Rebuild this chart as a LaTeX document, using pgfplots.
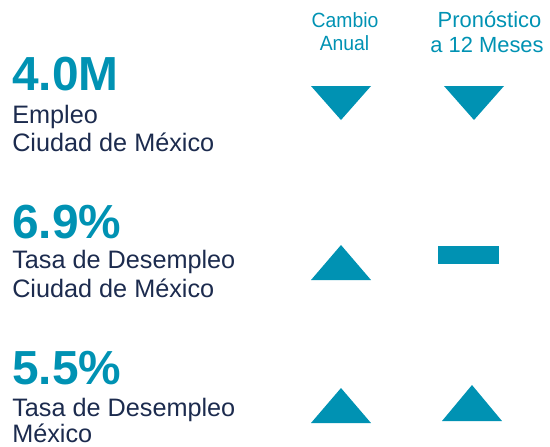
\documentclass[border=0pt]{standalone}
\usepackage{pgfplots}
\pgfplotsset{compat=1.18}
\usepackage{fontspec}
\setmainfont{Liberation Sans}

\definecolor{teal0}{HTML}{0092B3}
\definecolor{navy0}{HTML}{1C2B4E}

\tikzset{
    lbl/.style={anchor=base west, inner sep=0pt, text=navy0, font=\fontsize{19}{22}\selectfont},
    big/.style={anchor=base west, inner sep=0pt, text=teal0, font=\fontsize{36}{40}\selectfont\bfseries},
}

\begin{document}
\begin{tikzpicture}
\useasboundingbox (0,0) rectangle (412.5bp,335.25bp);
\begin{axis}[
    scale only axis,
    width=412.5bp, height=335.25bp,
    xmin=0, xmax=550, ymin=0, ymax=447,
    y dir=reverse,
    hide axis,
    clip=false,
]
% headers
\node[anchor=base, text=teal0, font=\fontsize{15.5}{18}\selectfont] at (axis cs:345,27) {\scalebox{0.94}[1]{Cambio}};
\node[anchor=base, text=teal0, font=\fontsize{15.5}{18}\selectfont] at (axis cs:344.5,50) {\scalebox{0.94}[1]{Anual}};
\node[anchor=base, text=teal0, font=\fontsize{16.5}{19}\selectfont] at (axis cs:489.5,27) {Pronóstico};
\node[anchor=base, text=teal0, font=\fontsize{16.5}{19}\selectfont] at (axis cs:487,52) {a 12 Meses};

% row 1
\node[big] at (axis cs:12,90) {4.0M};
\node[lbl] at (axis cs:12,123) {Empleo};
\node[lbl] at (axis cs:12,151) {Ciudad de México};
\addplot[fill=teal0, draw=none] coordinates {(311,86)(371,86)(341,120)} -- cycle;
\addplot[fill=teal0, draw=none] coordinates {(444,86)(504,86)(474,120)} -- cycle;

% row 2
\node[big] at (axis cs:12,238) {6.9\%};
\node[lbl] at (axis cs:12,268) {Tasa de Desempleo};
\node[lbl] at (axis cs:12,297) {Ciudad de México};
\addplot[fill=teal0, draw=none] coordinates {(311,280)(371,280)(341,245)} -- cycle;
\addplot[fill=teal0, draw=none] coordinates {(438,246)(499,246)(499,264)(438,264)} -- cycle;

% row 3
\node[big] at (axis cs:12,384) {5.5\%};
\node[lbl] at (axis cs:12,416) {Tasa de Desempleo};
\node[lbl] at (axis cs:12,442) {México};
\addplot[fill=teal0, draw=none] coordinates {(311,423)(371,423)(341,388)} -- cycle;
\addplot[fill=teal0, draw=none] coordinates {(442,421)(502,421)(472,385)} -- cycle;
\end{axis}
\end{tikzpicture}
\end{document}
